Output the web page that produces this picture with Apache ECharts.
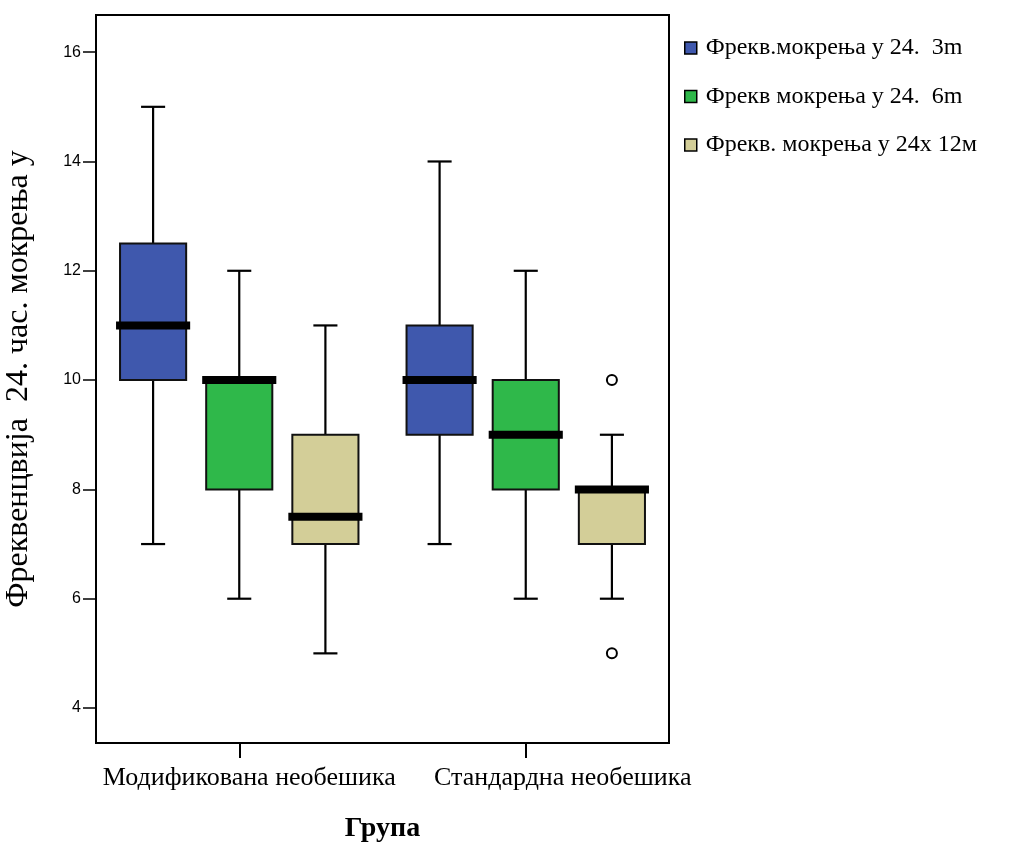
<!DOCTYPE html>
<html>
<head>
<meta charset="utf-8">
<script src="https://cdn.jsdelivr.net/npm/echarts@6/dist/echarts.min.js"></script>
<style>html,body{margin:0;padding:0;background:#fff}#c{width:1011px;height:846px}</style>
</head>
<body>
<div id="c"></div>
<script>
// ---- data ----
const categories = ['Модификована необешика', 'Стандардна необешика'];
const seriesNames = ['Фрекв.мокрења у 24.  3m', 'Фрекв мокрења у 24.  6m', 'Фрекв. мокрења у 24х 12м'];
// [min, Q1, median, Q3, max] per category
const box3m  = [[7, 10, 11, 12.5, 15], [7, 9, 10, 11, 14]];
const box6m  = [[6, 8, 10, 10, 12],    [6, 8, 9, 10, 12]];
const box12m = [[5, 7, 7.5, 9, 11],    [6, 7, 8, 8, 9]];
// outliers: [categoryIndex, value, seriesIndex]
const outliers = [[1, 10, 2], [1, 5, 2]];
const yTicks = [4, 6, 8, 10, 12, 14, 16];

const colors = ['#3F58AD', '#2FB84A', '#D3CE98'];
const offsets = [-0.3007, 0, 0.3007];   // fraction of band width
const boxFrac = 0.2308;
const capFrac = 0.084;

function makeBoxSeries(name, arr, idx) {
  return {
    name: name,
    type: 'custom',
    itemStyle: { color: colors[idx], borderColor: '#000', borderWidth: 1.5 },
    encode: { x: 0, y: [1, 2, 3, 4, 5] },
    data: arr.map((b, i) => [i].concat(b)),
    renderItem: function (params, api) {
      const cat = api.value(0);
      const bw = api.size([1, 0])[0];
      const cx = api.coord([cat, 0])[0] + offsets[idx] * bw;
      const y = [1, 2, 3, 4, 5].map(k => api.coord([cat, api.value(k)])[1]);
      const w = boxFrac * bw, cw = capFrac * bw;
      const line = { stroke: '#000', lineWidth: 2.2 };
      return {
        type: 'group',
        children: [
          { type: 'line', shape: { x1: cx, y1: y[0], x2: cx, y2: y[1] }, style: line },
          { type: 'line', shape: { x1: cx, y1: y[3], x2: cx, y2: y[4] }, style: line },
          { type: 'line', shape: { x1: cx - cw / 2, y1: y[0], x2: cx + cw / 2, y2: y[0] }, style: line },
          { type: 'line', shape: { x1: cx - cw / 2, y1: y[4], x2: cx + cw / 2, y2: y[4] }, style: line },
          { type: 'rect', shape: { x: cx - w / 2, y: y[3], width: w, height: y[1] - y[3] },
            style: { fill: colors[idx], stroke: '#111', lineWidth: 2 } },
          { type: 'line', shape: { x1: cx - w / 2 - 4, y1: y[2], x2: cx + w / 2 + 4, y2: y[2] },
            style: { stroke: '#000', lineWidth: 8 } }
        ]
      };
    }
  };
}

const series = [
  makeBoxSeries(seriesNames[0], box3m, 0),
  makeBoxSeries(seriesNames[1], box6m, 1),
  makeBoxSeries(seriesNames[2], box12m, 2),
  {
    name: 'outliers',
    type: 'custom',
    encode: { x: 0, y: 1 },
    data: outliers,
    renderItem: function (params, api) {
      const cat = api.value(0);
      const bw = api.size([1, 0])[0];
      const p = api.coord([cat, api.value(1)]);
      return { type: 'circle', shape: { cx: p[0] + offsets[api.value(2)] * bw, cy: p[1], r: 5 },
        style: { fill: '#fff', stroke: '#000', lineWidth: 2 } };
    }
  }
];

const chart = echarts.init(document.getElementById('c'));
chart.setOption({
  animation: false,
  backgroundColor: '#fff',
  grid: { left: 96, top: 15, right: 342, bottom: 103, outerBoundsMode: 'none', containLabel: false,
          show: true, borderColor: '#000', borderWidth: 2, backgroundColor: 'transparent' },
  legend: {
    orient: 'vertical', left: 679, top: 31,
    itemWidth: 12, itemHeight: 12, itemGap: 24.5,
    icon: 'rect',
    data: seriesNames.map((n, i) => ({ name: n, itemStyle: { color: colors[i], borderColor: '#000', borderWidth: 1.5 } })),
    textStyle: { fontFamily: 'Liberation Serif', fontSize: 24, color: '#000', padding: [0, 0, 0, 4] },
    selectedMode: false
  },
  xAxis: {
    type: 'category',
    data: categories.map((c, i) => ({ value: c, textStyle: { padding: i === 0 ? [0, 0, 0, 20] : [0, 0, 0, 74] } })),
    boundaryGap: true,
    name: 'Група',
    nameLocation: 'middle',
    nameGap: 72,
    nameTextStyle: { fontFamily: 'Liberation Serif', fontSize: 28, fontWeight: 'bold', color: '#000' },
    axisLine: { show: true, lineStyle: { color: '#000', width: 2 } },
    axisTick: { show: true, alignWithLabel: true, length: 15, lineStyle: { color: '#000', width: 2 } },
    axisLabel: { fontFamily: 'Liberation Serif', fontSize: 26, color: '#000', margin: 22, interval: 0, hideOverlap: false },
    splitLine: { show: false }
  },
  yAxis: {
    type: 'value',
    min: 3.36, max: 16.68,
    name: 'Фреквенцвија  24. час. мокрења у',
    nameLocation: 'middle',
    nameGap: 61,
    nameRotate: 90,
    nameTextStyle: { fontFamily: 'Liberation Serif', fontSize: 32, color: '#000' },
    axisLine: { show: true, lineStyle: { color: '#000', width: 2 } },
    axisTick: { show: true, length: 13, customValues: yTicks, lineStyle: { color: '#000', width: 1.5 } },
    axisLabel: { fontFamily: 'Liberation Sans', fontSize: 16, color: '#000', margin: 15, customValues: yTicks },
    splitLine: { show: false }
  },
  series: series
});
</script>
</body>
</html>
